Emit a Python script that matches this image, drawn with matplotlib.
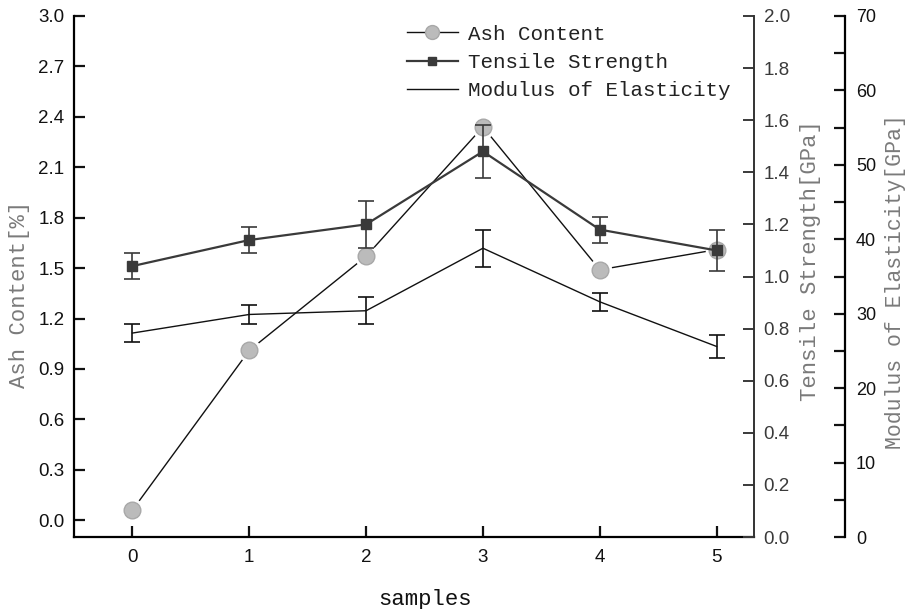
import matplotlib
matplotlib.use("Agg")
import matplotlib.pyplot as plt
from matplotlib.lines import Line2D
from matplotlib.ticker import MultipleLocator

samples = [0, 1, 2, 3, 4, 5]
ash = [0.06, 1.01, 1.57, 2.34, 1.49, 1.61]
tensile = [1.04, 1.14, 1.20, 1.48, 1.18, 1.10]
tensile_err = [0.05, 0.05, 0.09, 0.10, 0.05, 0.08]
modulus = [27.4, 29.9, 30.4, 38.8, 31.6, 25.6]
modulus_err = [1.25, 1.3, 1.8, 2.5, 1.2, 1.5]

serif = "Liberation Mono"
tickfont = "Liberation Sans"
label_color = "#7a7a7a"

fig = plt.figure(figsize=(9.06, 6.09), dpi=100)
ax = fig.add_axes([74/906, 1-537/609, (754-74)/906, (537-16)/609])
ax2 = ax.twinx()
ax3 = ax.twinx()

# Ash content (left axis)
ax.plot(samples, ash, color="#111111", lw=1.0, zorder=1)
ax.plot(samples, ash, 'o', ms=17, mfc='white', mec='none', zorder=2)
ax.plot(samples, ash, 'o', ms=12, mfc='#bbbbbb', mec='#a8a8a8', mew=1.0, zorder=3)

# Tensile strength
ax2.errorbar(samples, tensile, yerr=tensile_err, color='#3a3a3a', lw=1.6,
             marker='s', ms=7.5, mfc='#3a3a3a', mec='#3a3a3a',
             ecolor='#3a3a3a', elinewidth=1.2, capsize=6, capthick=1.2)

# Modulus of elasticity
ax3.errorbar(samples, modulus, yerr=modulus_err, color='#111111', lw=1.0,
             ecolor='#111111', elinewidth=1.2, capsize=6, capthick=1.2)

# Axes limits
ax.set_xlim(-0.5, 5.32)
ax.set_ylim(-0.1, 3.0)
ax2.set_ylim(0, 2.0)
ax3.set_ylim(0, 70)

# Spines
for s in ['top', 'right']:
    ax.spines[s].set_visible(False)
ax.spines['left'].set_linewidth(1.6)
ax.spines['bottom'].set_linewidth(1.6)
ax.spines['left'].set_bounds(-0.1, 3.0)

for s in ['top', 'left', 'bottom']:
    ax2.spines[s].set_visible(False)
    ax3.spines[s].set_visible(False)
ax2.spines['right'].set_linewidth(1.4)
ax2.spines['right'].set_color('#333333')
ax3.spines['right'].set_position(('axes', (845-74)/(754-74)))
ax3.spines['right'].set_linewidth(1.6)

# Ticks
ax.set_yticks([0.0, 0.3, 0.6, 0.9, 1.2, 1.5, 1.8, 2.1, 2.4, 2.7, 3.0])
ax.set_xticks(samples)
ax.tick_params(axis='both', direction='in', length=8, width=1.6,
               labelsize=13.5, colors='#111111')
ax.tick_params(axis='y', pad=7)
ax.tick_params(axis='x', pad=9)
ax2.set_yticks([0.0, 0.2, 0.4, 0.6, 0.8, 1.0, 1.2, 1.4, 1.6, 1.8, 2.0])
ax2.tick_params(axis='y', direction='in', length=8, width=1.4,
                labelsize=13.5, colors='#3a3a3a', pad=7)
ax3.yaxis.set_major_locator(MultipleLocator(10))
ax3.yaxis.set_minor_locator(MultipleLocator(5))
ax3.tick_params(axis='y', which='both', direction='in', length=8, width=1.6,
                labelsize=13, colors='#111111', pad=8)

ax.set_xticklabels([str(v) for v in samples], fontfamily=tickfont)
ax.set_yticklabels(["%.1f" % v for v in ax.get_yticks()], fontfamily=tickfont)
ax2.set_yticklabels(["%.1f" % v for v in ax2.get_yticks()], fontfamily=tickfont)
for lab in ax3.get_yticklabels():
    lab.set_fontfamily(tickfont)

# Labels
ax.set_xlabel("samples", fontfamily=serif, fontsize=16, color='#111111')
ax.xaxis.set_label_coords((425-74)/680, -0.10)
ax.set_ylabel("Ash Content[%]", fontfamily=serif, fontsize=16, color=label_color)
ax.yaxis.set_label_coords(-0.065, 0.466)
ax2.set_ylabel("Tensile Strength[GPa]", fontfamily=serif, fontsize=16, color=label_color)
ax2.yaxis.set_label_coords(1.068, 0.53)
ax3.set_ylabel("Modulus of Elasticity[GPa]", fontfamily=serif, fontsize=15.5, color=label_color)
ax3.yaxis.set_label_coords(1.192, 0.49)

# Legend
handles = [
    Line2D([], [], color='#111111', lw=1.0, marker='o', ms=10, mfc='#bbbbbb', mec='#a8a8a8'),
    Line2D([], [], color='#3a3a3a', lw=1.6, marker='s', ms=6, mfc='#3a3a3a', mec='#3a3a3a'),
    Line2D([], [], color='#111111', lw=1.0),
]
labels = ["Ash Content", "Tensile Strength", "Modulus of Elasticity"]
leg = ax3.legend(handles, labels, loc='upper left', bbox_to_anchor=(392/906, 1-10/609),
                 bbox_transform=fig.transFigure, frameon=False, numpoints=1,
                 prop={'family': serif, 'size': 15}, handlelength=2.45,
                 handletextpad=0.5, labelspacing=0.45, borderpad=0.2)
for t in leg.get_texts():
    t.set_color('#222222')

fig.savefig("out.png", dpi=100)
